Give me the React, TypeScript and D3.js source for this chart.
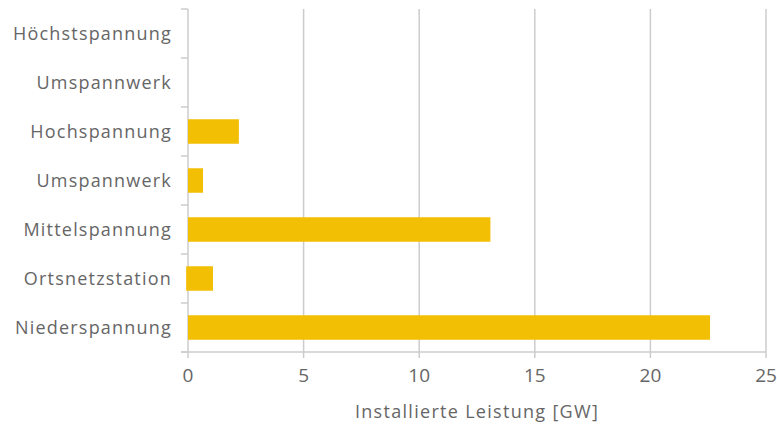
import * as d3 from "d3";

const categories = [
  "Höchstspannung",
  "Umspannwerk",
  "Hochspannung",
  "Umspannwerk",
  "Mittelspannung",
  "Ortsnetzstation",
  "Niederspannung",
];
const starts = [0, 0, 0, 0, 0, -0.08, 0];
const values = [0, 0, 2.2, 0.65, 13.08, 1.08, 22.58];
const xTicks = [0, 5, 10, 15, 20, 25];

const W = 777;
const H = 430;
const M = { top: 9, right: 11, bottom: 78, left: 188 };
const FONT = "'Open Sans', sans-serif";
const GREY = "#666666";
const GRID = "#cccccc";

export default function App() {
  const x = d3.scaleLinear().domain([0, 25]).range([M.left, W - M.right]);
  const y = d3
    .scaleBand<number>()
    .domain(d3.range(categories.length))
    .range([M.top, H - M.bottom])
    .paddingInner(0.5)
    .paddingOuter(0.25);
  const step = y.step();
  const bottom = H - M.bottom;
  const bandEdges = d3.range(categories.length + 1).map((i) => M.top + i * step);

  return (
    <svg width={W} height={H} style={{ position: "absolute", left: 0, top: 0, fontFamily: FONT }}>
      {xTicks.slice(1).map((t) => (
        <line key={t} x1={x(t)} x2={x(t)} y1={M.top} y2={bottom + 6} stroke={GRID} strokeWidth={1.5} />
      ))}
      <line x1={x(0)} x2={x(0)} y1={M.top} y2={bottom + 6} stroke={GRID} strokeWidth={1.5} />
      <line x1={x(0) - 7} x2={W - M.right} y1={bottom} y2={bottom} stroke={GRID} strokeWidth={1.5} />
      {bandEdges.map((e, i) => (
        <line key={i} x1={x(0) - 7} x2={x(0)} y1={e} y2={e} stroke={GRID} strokeWidth={1.5} />
      ))}
      {values.map((v, i) =>
        v > 0 ? (
          <rect
            key={i}
            x={x(starts[i])}
            y={y(i)}
            width={x(v) - x(starts[i])}
            height={y.bandwidth()}
            fill="#f2bf05"
          />
        ) : null
      )}
      {categories.map((c, i) => (
        <text
          key={i}
          x={x(0) - 16}
          y={(y(i) ?? 0) + y.bandwidth() / 2}
          dy="0.36em"
          textAnchor="end"
          fill={GREY}
          fontSize={18}
          fontWeight={500}
          letterSpacing="1.2"
        >
          {c}
        </text>
      ))}
      {xTicks.map((t) => (
        <text key={t} x={x(t)} y={bottom + 30} textAnchor="middle" fill={GREY} fontSize={19} fontWeight={500}>
          {t}
        </text>
      ))}
      <text
        x={(x(0) + x(25)) / 2}
        y={H - 12}
        textAnchor="middle"
        fill={GREY}
        fontSize={18}
        fontWeight={500}
        letterSpacing="1.3"
      >
        Installierte Leistung [GW]
      </text>
    </svg>
  );
}
